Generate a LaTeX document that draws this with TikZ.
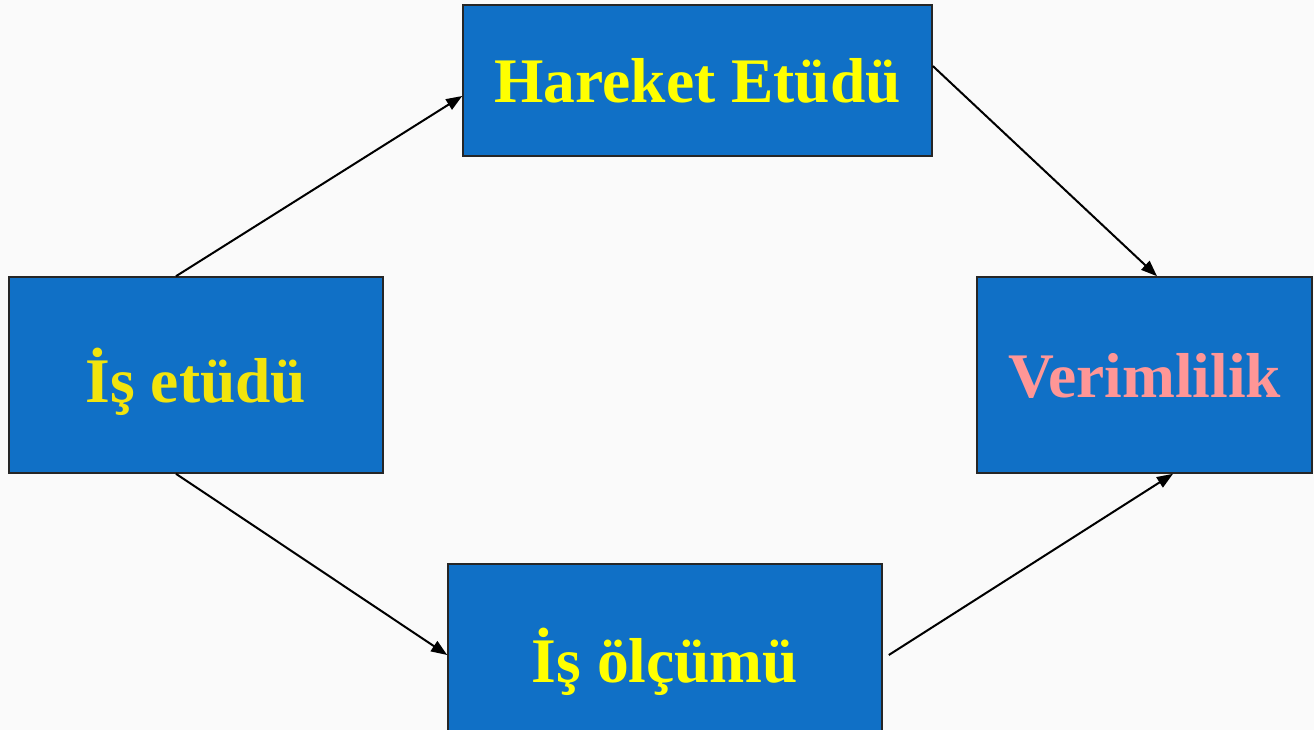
\documentclass[tikz,border=0pt]{standalone}
\usepackage{fontspec}
\setmainfont{Liberation Serif}
\usetikzlibrary{arrows.meta}
\definecolor{boxblue}{HTML}{1070C6}
\definecolor{txtyellow}{HTML}{FFFF00}
\definecolor{txtyellow2}{HTML}{F2E40C}
\definecolor{txtpink}{HTML}{FF9696}
\definecolor{bgcol}{HTML}{FAFAFA}
\tikzset{
  box/.style={draw=black!85, line width=1.6pt, fill=boxblue, inner sep=0pt,
    text depth=0pt, font=\fontsize{63.5}{70}\selectfont\bfseries},
  conn/.style={line width=2pt, -{Triangle[length=16pt,width=12pt]}}
}
\begin{document}
\begin{tikzpicture}[x=1pt,y=-1pt]
\fill[bgcol] (0,0) rectangle (1314,730);
\useasboundingbox (0,0) rectangle (1314,730);
\begin{scope}
\clip (0,0) rectangle (1314,730);
\node[box, minimum width=469pt, minimum height=151pt, text=txtyellow] (he) at (697.5,80.5) {Hareket Etüdü};
\node[box, minimum width=374pt, minimum height=196pt, text=txtyellow2] (ie) at (196,375) {İş etüdü};
\node[box, minimum width=335pt, minimum height=196pt, text=txtpink] (ve) at (1144.5,375) {Verimlilik};
\node[box, minimum width=434pt, minimum height=182pt, text=txtyellow] (io) at (665,655) {İş ölçümü};
\end{scope}
\draw[conn] ([xshift=-20pt]ie.north) -- ([yshift=-15.5pt]he.west);
\draw[conn] ([yshift=14.5pt]he.east) -- ([xshift=12.5pt]ve.north);
\draw[conn] ([xshift=-20pt]ie.south) -- (io.west);
\draw[conn] ([xshift=6pt]io.east) -- ([xshift=28.5pt]ve.south);
\end{tikzpicture}
\end{document}
